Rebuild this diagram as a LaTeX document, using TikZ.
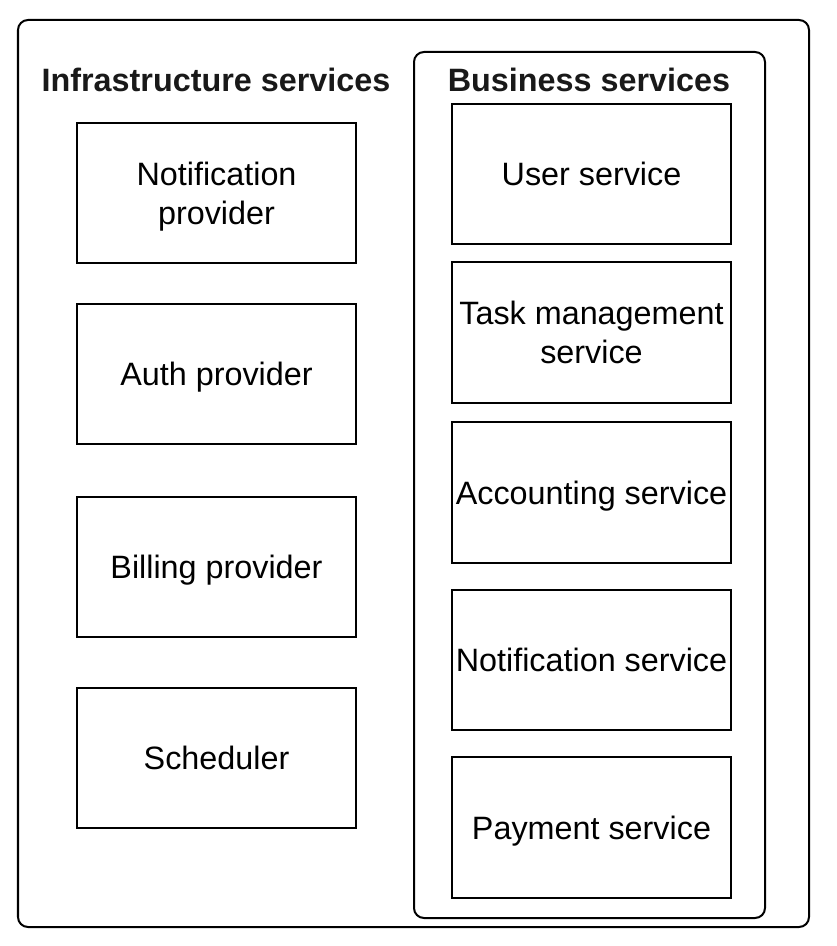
\documentclass[tikz,border=0pt]{standalone}
\usepackage{fontspec}
\setmainfont{Liberation Sans}
\usetikzlibrary{positioning}

\begin{document}
\begin{tikzpicture}[
  x=0.025cm, y=-0.025cm,
  font=\fontsize{23}{27.7}\selectfont,
  frame/.style={draw, line width=0.05cm, rounded corners=0.25cm},
  svc/.style={draw, line width=0.05cm, align=center, inner sep=0pt,
              text depth=0pt, minimum width=6.975cm, minimum height=3.5cm},
  title/.style={font=\fontsize{23}{27.7}\selectfont\bfseries, text=black!90}
]
\useasboundingbox (0,0) rectangle (836,946);

% ---- frames ----
\draw[frame] (18,20) rectangle (809,927);
\draw[frame] (414,52) rectangle (765,918);

% ---- infrastructure column ----
\node[title] (infra) at (216,80) {Infrastructure services};
\node[svc] (notif) at (216.5,193) {Notification\\provider};
\node[svc] (auth)  at (216.5,374) {Auth provider};
\node[svc] (bill)  at (216.5,567) {Billing provider};
\node[svc] (sched) at (216.5,758) {Scheduler};

% ---- business column ----
\node[title] (biz) at (589,80) {Business services};
\node[svc] (user)  at (591.5,174) {User service};
\node[svc] (task)  at (591.5,332.5) {Task management\\service};
\node[svc] (acct)  at (591.5,492.5) {Accounting service};
\node[svc] (nserv) at (591.5,660) {Notification service};
\node[svc] (pay)   at (591.5,827.5) {Payment service};
\end{tikzpicture}
\end{document}
